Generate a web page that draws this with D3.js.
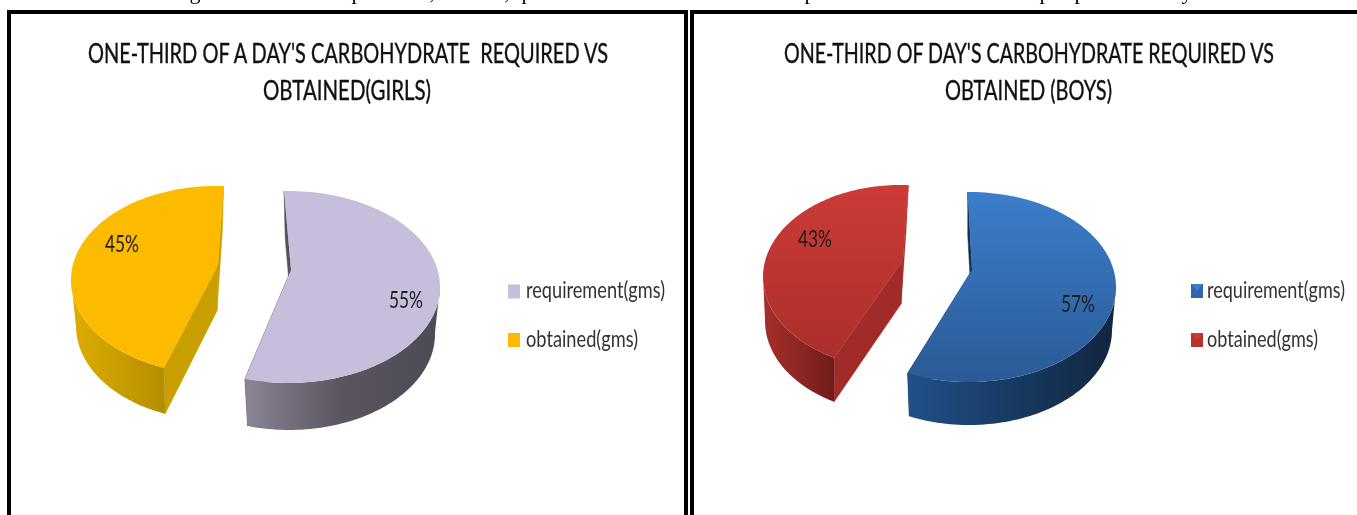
<!DOCTYPE html>
<html><head><meta charset="utf-8">
<style>html,body{margin:0;padding:0;background:#fff}svg{display:block;filter:blur(0.45px)}text{font-family:Lato,"Open Sans",sans-serif}</style>
<script src="https://cdn.jsdelivr.net/npm/d3@7"></script>
</head><body><svg id="c" width="1357" height="515"></svg>
<script>
const categories = ["requirement(gms)", "obtained(gms)"];
const girlsValues = [55, 45];
const boysValues = [57, 43];
const girlsTitle = ["ONE-THIRD OF A DAY'S CARBOHYDRATE  REQUIRED VS", "OBTAINED(GIRLS)"];
const boysTitle = ["ONE-THIRD OF DAY'S CARBOHYDRATE REQUIRED VS", "OBTAINED (BOYS)"];
const captionGlyphs = [["g",195],["p",357],[",",432],[",",507],["p",527],["p",810],["p",1045],["p",1080],["y",1187]];

const charts = [
 {id:"g", values:girlsValues, title:girlsTitle,
  titleBoxes:[[88,608],[263,431]],
  legend:{sx:508,tx:526,tw:139,ys:[291.5,340],bevel:false},
  slices:[
   {cx:288,cy:287,rx:152,ry:96,bx:289,by:334,brx:146,bry:96,off:-1.5,ax:291,ay:270,lx:406,ly:299,
    top:["#c6bedb","#c6bedb"],swatch:"#c6bedb",wall:["#8b8494","#5a5560","#4e4a54"],cut:"#55505c"},
   {cx:216,cy:280,rx:145,ry:94,bx:215,by:326,brx:139,bry:94,off:3,ax:218,ay:265,lx:122,ly:243,
    top:["#fdbb00","#fdbb00"],swatch:"#fdbb00",wall:["#deac00","#c99e00","#b58e00"],cut:"#c99f00"}
  ]},
 {id:"b", values:boysValues, title:boysTitle,
  titleBoxes:[[784,1274],[945,1112]],
  legend:{sx:1191,tx:1207,tw:138,ys:[291,340],bevel:true},
  slices:[
   {cx:969,cy:287,rx:147,ry:95,bx:969,by:330,brx:143,bry:95,off:-0.5,ax:972,ay:270,lx:1078,ly:303,
    top:["#3b7ecb","#2b5a96"],swatch:"#2f66ad",wall:["#20508a","#183a62","#11263f"],cut:"#14304f"},
   {cx:900,cy:277,rx:137,ry:92,bx:898,by:321,brx:133,bry:92,off:3.5,ax:903,ay:260,lx:815,ly:238,
    top:["#cc3b37","#a92d2a"],swatch:"#b8322e",wall:["#a52e2a","#8e2623","#701c1a"],cut:"#a02b28"}
  ]}
];

const svg = d3.select("#c");
const defs = svg.append("defs");
const line = d3.line();
const deg = a => a * Math.PI / 180;

// page frames
const frames = svg.append("g").attr("fill","none").attr("stroke","#000").attr("stroke-width",4);
frames.append("path").attr("d",line([[9,515],[9,12],[686,12],[686,515]]));
frames.append("path").attr("d",line([[692,515],[692,12],[1357,12]]));

// clipped caption above the frames
svg.append("g").selectAll("text").data(captionGlyphs).join("text")
  .attr("x",d=>d[1]).attr("y",-1.5).attr("text-anchor","middle")
  .style("font-family","'Liberation Serif',serif").style("font-size","22px").attr("fill","#000").text(d=>d[0]);

const pie = d3.pie().sort(null).value(d=>d).startAngle(0).endAngle(2*Math.PI);

charts.forEach(ch=>{
  const g = svg.append("g");
  const total = d3.sum(ch.values);
  const pct = d3.format(".0%");
  pie(ch.values).forEach((arc,i)=>{
    const s = ch.slices[i];
    const a0 = arc.startAngle + deg(s.off), a1 = arc.endAngle + deg(s.off);
    const topPt = t=>[s.cx + s.rx*Math.sin(t), s.cy - s.ry*Math.cos(t)];
    const botPt = t=>[s.bx + s.brx*Math.sin(t), s.by - s.bry*Math.cos(t)];
    const apex = [s.ax,s.ay], apexB = [s.ax + s.bx - s.cx, s.ay + s.by - s.cy];
    const ts = d3.range(0,121).map(k=>a0 + (a1-a0)*k/120);
    const gid = ch.id+i;

    const wg = defs.append("linearGradient").attr("id","w"+gid).attr("gradientUnits","userSpaceOnUse");
    const front = ts.filter(t=>Math.cos(t)<=0.02);
    const xs = d3.extent(front.map(topPt),d=>d[0]);
    wg.attr("x1",xs[0]).attr("x2",xs[1]).attr("y1",0).attr("y2",0);
    s.wall.forEach((c,k)=>wg.append("stop").attr("offset",k/(s.wall.length-1)).attr("stop-color",c));
    const tg = defs.append("linearGradient").attr("id","t"+gid).attr("gradientUnits","userSpaceOnUse")
      .attr("x1",0).attr("x2",0).attr("y1",s.cy-s.ry).attr("y2",s.cy+s.ry);
    s.top.forEach((c,k)=>tg.append("stop").attr("offset",k).attr("stop-color",c));

    // cut faces
    [a0,a1].forEach(t=>{
      g.append("path").attr("fill",s.cut).attr("stroke",s.cut).attr("stroke-width",.5)
       .attr("d",line([topPt(t),apex,apexB,botPt(t)])+"Z");
    });
    // outer wall
    g.append("path").attr("fill",`url(#w${gid})`)
      .attr("d",line(front.map(topPt).concat(front.slice().reverse().map(botPt)))+"Z");
    // top face
    g.append("path").attr("fill",`url(#t${gid})`)
      .attr("d",line(ts.map(topPt).concat([apex]))+"Z");
    // data label
    g.append("text").attr("x",s.lx).attr("y",s.ly).attr("dy","0.36em").attr("text-anchor","middle")
      .attr("textLength",34).attr("lengthAdjust","spacingAndGlyphs")
      .style("font-size","24px").attr("fill","#1d1d1d").text(pct(arc.value/total));
    // legend
    const y = ch.legend.ys[i];
    g.append("rect").attr("x",ch.legend.sx).attr("y",y-7).attr("width",12).attr("height",14).attr("fill",s.swatch);
    if(ch.legend.bevel){
      g.append("path").attr("fill",s.top[0])
       .attr("d",line([[ch.legend.sx,y-7],[ch.legend.sx+12,y-7],[ch.legend.sx+6,y]])+"Z");
    }
    g.append("text").attr("x",ch.legend.tx).attr("y",y+6.5)
      .attr("textLength",i===0?ch.legend.tw:ch.legend.tw-27).attr("lengthAdjust","spacingAndGlyphs")
      .style("font-size","23px").attr("fill","#333").text(categories[i]);
  });
  // title
  ch.title.forEach((t,k)=>{
    const b = ch.titleBoxes[k];
    g.append("text").attr("x",b[0]).attr("y",63+k*37)
      .attr("textLength",b[1]-b[0]).attr("lengthAdjust","spacingAndGlyphs")
      .attr("xml:space","preserve").style("white-space","pre")
      .style("font-size","27px").attr("stroke","#111").attr("stroke-width",.4).attr("fill","#111").text(t);
  });
});
</script></body></html>
